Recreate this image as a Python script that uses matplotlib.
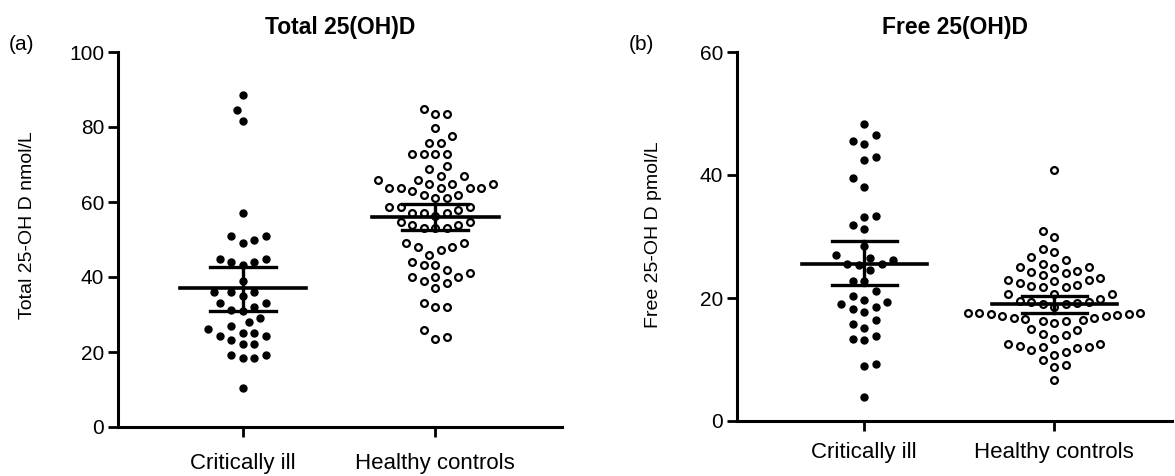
import numpy as np
import matplotlib
matplotlib.use('Agg')
from matplotlib import pyplot as plt

plt.rcParams['font.family'] = ['Liberation Sans', 'DejaVu Sans']

groups = ['Critically ill', 'Healthy controls']

# (a) Total 25(OH)D, nmol/L
total_ill = [88.5, 84.5, 81.7, 57.0, 50.9, 49.0, 49.9, 51.0, 44.8, 44.1, 43.2, 44.1, 44.8,
             38.9, 35.9, 36.1, 34.9, 35.9, 33.1, 32.1, 30.9, 31.2, 33.1, 29.0, 27.0, 26.1,
             28.1, 25.2, 24.3, 23.2, 22.1, 22.1, 24.3, 25.2, 19.2, 18.3, 18.3, 19.2, 10.3]
total_healthy = [83.6, 83.6, 84.8, 79.8, 75.8, 75.8, 77.7, 72.8, 72.8, 72.8, 72.8, 69.6, 68.7,
                 66.9, 66.0, 66.0, 66.9, 64.7, 64.7, 63.8, 63.8, 63.0, 61.9, 61.9, 63.8, 63.8,
                 63.8, 64.7, 61.0, 61.0, 58.8, 58.8, 58.0, 58.8, 57.0, 57.0, 56.3, 57.0, 54.6,
                 54.6, 53.8, 53.0, 53.0, 53.8, 53.0, 49.0, 48.1, 46.0, 47.2, 48.1, 49.0, 43.2,
                 41.9, 41.0, 43.2, 43.9, 40.1, 38.9, 37.0, 38.3, 40.1, 40.1, 31.9, 31.9, 33.2,
                 26.0, 23.4, 24.1]
total_center = [37.0, 56.1]
total_low = [31.0, 52.5]
total_high = [42.6, 59.5]

# (b) Free 25(OH)D, pmol/L
free_ill = [48.3, 46.5, 45.6, 45.0, 42.5, 43.0, 39.5, 38.0, 33.2, 33.3, 31.9, 31.3, 28.5,
            27.0, 26.1, 25.5, 25.4, 25.6, 26.5, 24.6, 22.8, 22.8, 21.2, 20.3, 19.4, 18.5,
            17.8, 18.2, 19.0, 19.7, 15.7, 15.2, 16.4, 13.8, 13.2, 13.3, 9.3, 9.0, 3.9]
free_healthy = [40.8, 30.9, 29.9, 27.4, 27.9, 26.2, 25.6, 26.6, 25.1, 24.8, 24.3, 23.7, 24.1,
                24.4, 25.0, 22.9, 22.8, 22.1, 21.8, 21.8, 21.9, 22.5, 22.9, 23.2, 20.7, 20.7,
                20.7, 19.5, 19.3, 19.8, 19.0, 19.2, 19.0, 19.4, 18.5, 17.5, 17.4, 17.4, 17.1,
                16.8, 16.6, 16.3, 16.0, 16.2, 16.5, 16.8, 17.1, 17.3, 17.5, 17.5, 14.8, 14.0,
                13.4, 14.1, 15.0, 12.5, 12.1, 11.8, 10.7, 11.3, 11.5, 12.0, 12.2, 12.5, 9.1,
                8.7, 10.0, 6.7]
free_center = [25.5, 19.0]
free_low = [22.1, 17.5]
free_high = [29.2, 20.4]


def swarm_x(ax, xc, values, d=11.5):
    # simple beeswarm in pixel space, returns x positions in data units
    vals = np.asarray(values, dtype=float)
    pix = ax.transData.transform(np.column_stack([np.full(len(vals), xc), vals]))
    ypx = pix[:, 1]
    x0 = ax.transData.transform([[xc, 0]])[0, 0]
    x1 = ax.transData.transform([[xc + 1, 0]])[0, 0]
    px_per_unit = x1 - x0
    step = d / 2
    placed = []
    offs = np.zeros(len(vals))
    for i in np.argsort(ypx):
        y = ypx[i]
        k = 0
        while True:
            cands = [0.0] if k == 0 else [k * step, -k * step]
            ok = [c for c in cands
                  if all((c - px) ** 2 + (y - py) ** 2 >= d * d * 0.98 for px, py in placed)]
            if ok:
                if len(ok) == 2:
                    s = sum(p[0] for p in placed)
                    c = ok[1] if s > 0 else ok[0]
                else:
                    c = ok[0]
                break
            k += 1
        placed.append((c, y))
        offs[i] = c
    return xc + offs / px_per_unit


def panel(ax, ill, healthy, center, low, high, ymax, yticks, xlim, xpad):
    ax.set_xlim(*xlim)
    ax.set_ylim(0, ymax)
    for s in ['top', 'right']:
        ax.spines[s].set_visible(False)
    for s in ['left', 'bottom']:
        ax.spines[s].set_linewidth(2.2)
    ax.set_yticks(yticks)
    ax.set_xticks([1, 2])
    ax.set_xticklabels(groups, fontsize=16)
    ax.tick_params(axis='y', labelsize=15, width=2, length=7, pad=3)
    ax.tick_params(axis='x', width=2, length=7, pad=xpad)

    xs = swarm_x(ax, 1, ill)
    ax.scatter(xs, ill, s=25, color='black', zorder=3, clip_on=False)
    xs = swarm_x(ax, 2, healthy)
    ax.scatter(xs, healthy, s=24, facecolor='white', edgecolor='black',
               linewidths=1.6, zorder=3, clip_on=False)

    for i, xc in enumerate([1, 2]):
        ax.plot([xc - 0.33, xc + 0.33], [center[i], center[i]], color='black', lw=2.6, zorder=4)
        ax.plot([xc, xc], [low[i], high[i]], color='black', lw=2.4, zorder=4)
        for v in (low[i], high[i]):
            ax.plot([xc - 0.17, xc + 0.17], [v, v], color='black', lw=2.4, zorder=4)


fig = plt.figure(figsize=(11.75, 4.76), dpi=100)
ax1 = fig.add_axes([118 / 1175, 49 / 476, 444 / 1175, 375 / 476])
ax2 = fig.add_axes([737 / 1175, 55 / 476, 435 / 1175, 369 / 476])

panel(ax1, total_ill, total_healthy, total_center, total_low, total_high,
      100, [0, 20, 40, 60, 80, 100], (0.35, 2.66), 12)
panel(ax2, free_ill, free_healthy, free_center, free_low, free_high,
      60, [0, 20, 40, 60], (0.33, 2.62), 8)

ax1.set_title('Total 25(OH)D', fontsize=16.5, fontweight='bold', pad=13)
ax2.set_title('Free 25(OH)D', fontsize=16.5, fontweight='bold', pad=13)

fig.text(28 / 1175, 1 - 225 / 476, 'Total 25-OH D nmol/L', rotation=90,
         ha='center', va='center', fontsize=14)
fig.text(654 / 1175, 1 - 235 / 476, 'Free 25-OH D pmol/L', rotation=90,
         ha='center', va='center', fontsize=14)
fig.text(22 / 1175, 1 - 45 / 476, '(a)', ha='center', va='center', fontsize=15)
fig.text(641 / 1175, 1 - 45 / 476, '(b)', ha='center', va='center', fontsize=15)

fig.savefig('out.png', dpi=100)
